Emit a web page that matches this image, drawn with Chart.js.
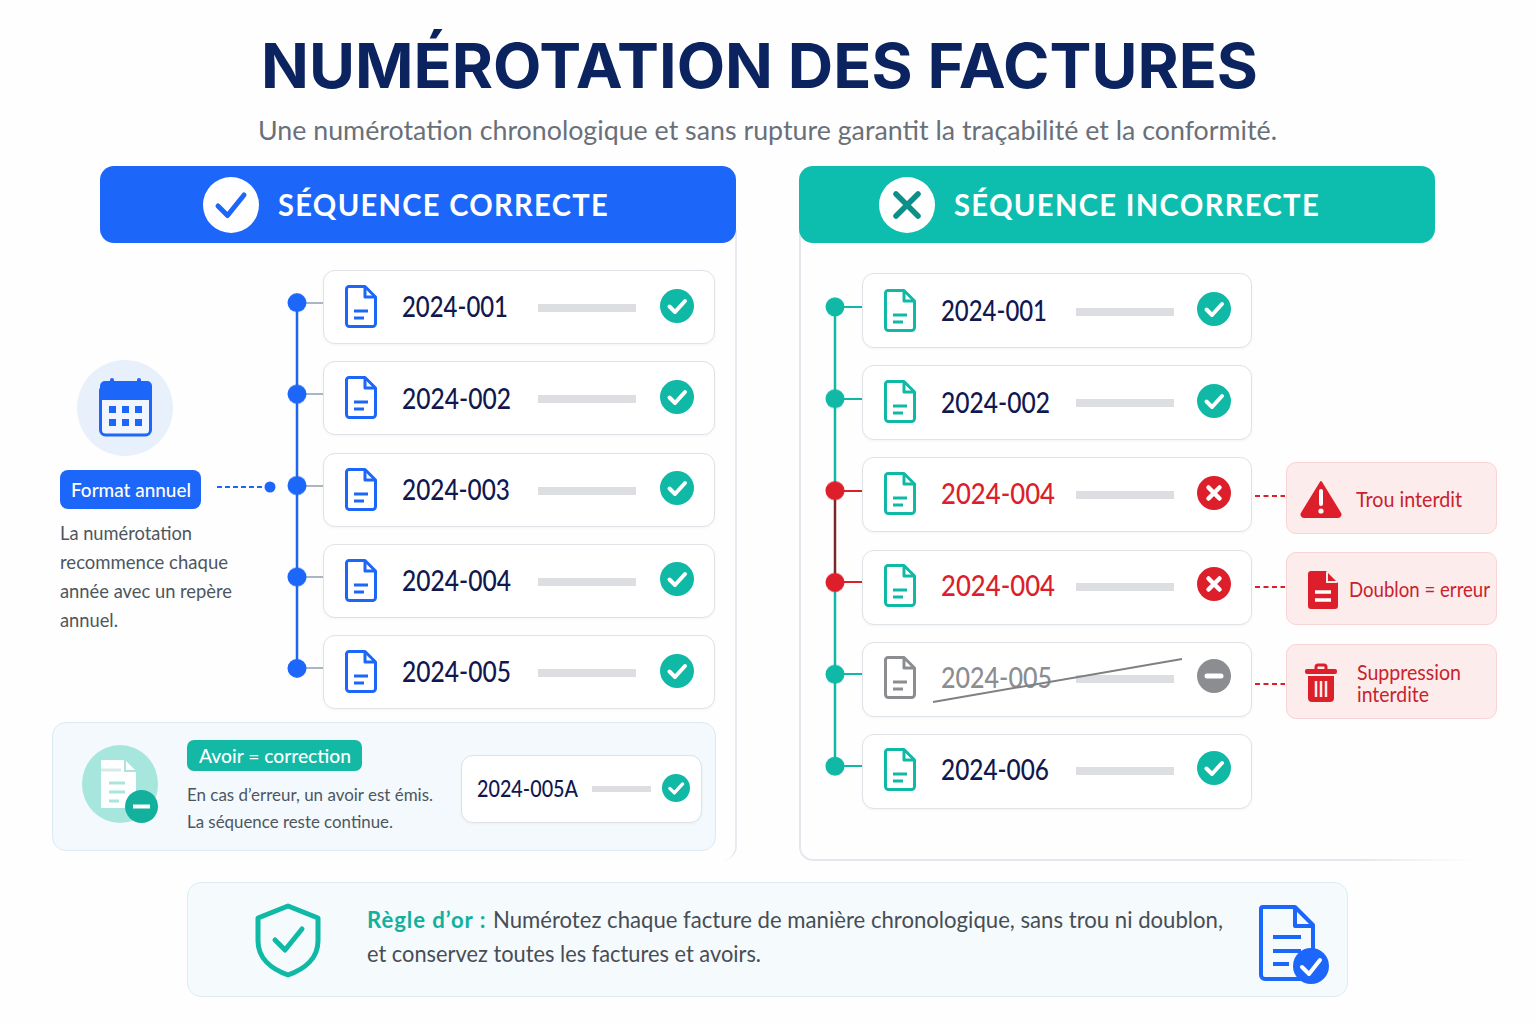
<!DOCTYPE html>
<html lang="fr">
<head>
<meta charset="utf-8">
<title>Numérotation des factures</title>
<script src="https://cdn.jsdelivr.net/npm/chart.js@4"></script>
<style>
  html, body { margin: 0; padding: 0; background: #fff; }
  #page { position: relative; width: 1536px; height: 1024px; overflow: hidden; background: #fefefe; font-family: Lato, sans-serif; }
  #page > *, .abs { position: absolute; }
  .txt { white-space: nowrap; line-height: 1; transform-origin: left center; }
  .card { background: #fff; border: 1.5px solid #dfe2e6; border-radius: 12px; box-sizing: border-box; box-shadow: 0 1px 3px rgba(30,50,80,.05); }
  .callout { background: #fdecec; border: 1.5px solid #fad3d6; border-radius: 10px; box-sizing: border-box; }
  svg { display: block; overflow: visible; }
</style>
</head>
<body>
<div id="page"></div>
<script>
// Séquences
const leftNumbers  = ['2024-001', '2024-002', '2024-003', '2024-004', '2024-005'];
const leftStatus   = ['ok', 'ok', 'ok', 'ok', 'ok'];
const rightNumbers = ['2024-001', '2024-002', '2024-004', '2024-004', '2024-005', '2024-006'];
const rightStatus  = ['ok', 'ok', 'err', 'err', 'void', 'ok'];
const rightNodes   = ['ok', 'ok', 'err', 'err', 'ok', 'ok'];
const lineOffset   = [0, 0, 0, 0, 0, 0];

const BLUE = '#1c66fa', TEAL = '#10b8a6', RED = '#dc1f2b', GREY = '#8b8d90', NAVY = '#11184f';
const page = document.getElementById('page');

function add(html) { page.insertAdjacentHTML('beforeend', html); }

// width: largeur visée, le texte est resserré pour y tenir
function text(x, cy, str, size, color, extra = '', width = 0) {
  add(`<div class="txt" style="left:${x}px;top:${cy - size / 2 - 0.7}px;font-size:${size}px;color:${color};${extra}">${str}</div>`);
  if (width) {
    const el = page.lastElementChild;
    el.style.transform = `scaleX(${width / el.getBoundingClientRect().width})`;
  }
}

function box(x, y, w, h, css, cls = '') {
  add(`<div class="${cls}" style="left:${x}px;top:${y}px;width:${w}px;height:${h}px;${css}"></div>`);
}

function svg(x, y, w, h, inner, vb) {
  add(`<svg style="left:${x}px;top:${y}px" width="${w}" height="${h}" viewBox="${vb || `0 0 ${w} ${h}`}" fill="none">${inner}</svg>`);
}

function docIcon(x, y, color) {
  svg(x, y, 32, 43, `<path d="M4 1.5H20L30.5 12V38.5a3 3 0 0 1-3 3H4.5a3 3 0 0 1-3-3V4a2.5 2.5 0 0 1 2.5-2.5Z" stroke="${color}" stroke-width="3" stroke-linejoin="round"/>
    <path d="M20 2V12H30" stroke="${color}" stroke-width="3" stroke-linejoin="round"/>
    <path d="M9 26H23M9 33H19" stroke="${color}" stroke-width="3"/>`);
}

function statusIcon(cx, cy, r, kind) {
  const c = kind === 'ok' ? TEAL : kind === 'err' ? RED : GREY;
  let mark = `<path d="M9.5 17.5L15 23L25 12" stroke="#fff" stroke-width="4" stroke-linecap="round" stroke-linejoin="round"/>`;
  if (kind === 'err') mark = `<path d="M11.5 11.5L22.5 22.5M22.5 11.5L11.5 22.5" stroke="#fff" stroke-width="4.5" stroke-linecap="round"/>`;
  if (kind === 'void') mark = `<path d="M10 17H24" stroke="#fff" stroke-width="5" stroke-linecap="round"/>`;
  svg(cx - r, cy - r, r * 2, r * 2, `<circle cx="17" cy="17" r="17" fill="${c}"/>${mark}`, '0 0 34 34');
}

// Titre
text(261, 67, 'NUMÉROTATION DES FACTURES', 62, '#0b2460', 'font-family:Inter;font-weight:700', 997);
text(258, 130, 'Une numérotation chronologique et sans rupture garantit la traçabilité et la conformité.', 27.5, '#6a7079', '', 1019);

// Panneaux
box(660, 230, 77, 630, 'border-right:2px solid #e8ebef;border-bottom-right-radius:14px;box-sizing:border-box');
box(799, 230, 690, 631, 'border-left:2px solid #e4e8ec;border-bottom:2px solid #e4e8ec;border-bottom-left-radius:14px;box-sizing:border-box');
box(1360, 855, 130, 8, 'background:linear-gradient(90deg,rgba(254,254,254,0),#fefefe 90%)');

// Bandeaux
box(100, 166, 636, 77, `background:${BLUE};border-radius:14px`);
box(799, 166, 636, 77, 'background:#0dbeae;border-radius:14px');
svg(203, 177, 56, 56, `<circle cx="28" cy="28" r="28" fill="#fff"/><path d="M15 29L24.5 38.5L41 18" stroke="${BLUE}" stroke-width="5" stroke-linecap="round" stroke-linejoin="round"/>`);
svg(879, 177, 56, 56, `<circle cx="28" cy="28" r="28" fill="#fff"/><path d="M17 17L39 39M39 17L17 39" stroke="#0c8f86" stroke-width="5.5" stroke-linecap="round"/>`);
text(278, 205, 'SÉQUENCE CORRECTE', 31, '#fff', 'font-weight:700;letter-spacing:1.4px', 331);
text(954, 205, 'SÉQUENCE INCORRECTE', 31, '#fff', 'font-weight:700;letter-spacing:1.4px', 366);

// Format annuel
svg(77, 360, 96, 96, `<circle cx="48" cy="48" r="48" fill="#e8f0fc"/>
  <rect x="23.5" y="26" width="50" height="49" rx="5" fill="#f1f6fe" stroke="${BLUE}" stroke-width="3"/>
  <path d="M23 40V26a5 5 0 0 1 5-5H70a5 5 0 0 1 5 5V40Z" fill="${BLUE}"/>
  <path d="M35 20V27M62 20V27" stroke="${BLUE}" stroke-width="4" stroke-linecap="round"/>
  <g fill="${BLUE}"><rect x="32" y="46" width="7" height="7"/><rect x="45" y="46" width="7" height="7"/><rect x="58" y="46" width="7" height="7"/><rect x="32" y="59" width="7" height="7"/><rect x="45" y="59" width="7" height="7"/><rect x="58" y="59" width="7" height="7"/></g>`);
box(60, 470, 141, 39, `background:${BLUE};border-radius:8px`);
text(71, 489.5, 'Format annuel', 20, '#fff', 'font-weight:500', 120);
svg(217, 481, 60, 12, `<path d="M0 6H46" stroke="${BLUE}" stroke-width="2" stroke-dasharray="5 3"/><circle cx="53" cy="6" r="5.5" fill="${BLUE}"/>`);
const noteLines = ['La numérotation', 'recommence chaque', 'année avec un repère', 'annuel.'];
const noteWidths = [132, 168, 172, 58];
noteLines.forEach((line, i) => {
  text(60, 533.5 + i * 29, line, 19, '#4d5660', '', noteWidths[i]);
});

// Lignes de factures
function row(top, x, w, h, cy, number, status, iconColor, numberColor, opt) {
  box(x, top, w, h, '', 'card');
  docIcon(x + 22, cy - 22, iconColor);
  text(x + 79, cy, number, 28, numberColor, 'font-weight:500', opt.numWidth);
  box(opt.barX, cy - 3, 98, 8, 'background:#dcdee1');
  statusIcon(opt.iconX, cy - 1.5, 17, status);
}

const leftSpacing = 91.25, leftTop = 270, leftFirst = 303;
const leftWidths = [106, 109, 108, 109, 109];
leftNumbers.forEach((n, i) => {
  const top = leftTop + i * leftSpacing;
  box(304, leftFirst + i * leftSpacing - 1, 20, 2, 'background:#a9b6c4');
  row(top, 323, 392, 74, top + 37, n, leftStatus[i], BLUE, NAVY, { numWidth: leftWidths[i], barX: 538, iconX: 677 });
});

const rightSpacing = 92.2, rightTop = 273, rightFirst = 307, rightNodeGap = 91.8;
const rightWidths = [106, 109, 114, 114, 111, 108];
rightNumbers.forEach((n, i) => {
  const top = rightTop + i * rightSpacing;
  const st = rightStatus[i];
  const nodeColor = rightNodes[i] === 'err' ? RED : TEAL;
  box(842, rightFirst + i * rightNodeGap - 1, 21, 2, `background:${nodeColor}`);
  row(top, 862, 390, 75, 310.5 + i * rightNodeGap, n, st,
      st === 'void' ? GREY : TEAL,
      st === 'err' ? RED : st === 'void' ? GREY : NAVY,
      { numWidth: rightWidths[i], barX: 1076, iconX: 1214 });
});
// Facture barrée
svg(930, 655, 255, 50, `<path d="M3 47L252 4" stroke="#7e8184" stroke-width="2"/>`);

// Erreurs
[[462, 72, 495], [552, 73, 586], [644, 75, 683]].forEach(([top, h, dash]) => {
  box(1286, top, 211, h, '', 'callout');
  svg(1255, dash, 30, 2, `<path d="M0 1H30" stroke="${RED}" stroke-width="2" stroke-dasharray="5 3.5"/>`);
});
svg(1300, 480, 42, 38, `<path d="M21 2L40 33a2.5 2.5 0 0 1-2 4H4a2.5 2.5 0 0 1-2-4Z" fill="${RED}" stroke="${RED}" stroke-width="2" stroke-linejoin="round"/><path d="M21 11V24" stroke="#fff" stroke-width="4" stroke-linecap="round"/><circle cx="21" cy="31" r="2.6" fill="#fff"/>`);
text(1356, 500, 'Trou interdit', 20.5, '#c9222e', '', 106);
svg(1308, 571, 30, 38, `<path d="M3 0H18L30 12V35a3 3 0 0 1-3 3H3a3 3 0 0 1-3-3V3a3 3 0 0 1 3-3Z" fill="${RED}"/><path d="M19 1V11H29" stroke="#fdecec" stroke-width="2"/><path d="M7 21H23M7 29H23" stroke="#fff" stroke-width="3.5"/>`);
text(1349, 590, 'Doublon = erreur', 20.5, '#c9222e', '', 141);
svg(1305, 663, 32, 39, `<path d="M11 7V4a2 2 0 0 1 2-2H19a2 2 0 0 1 2 2V7" stroke="${RED}" stroke-width="3"/><rect x="0" y="6" width="32" height="5" rx="2" fill="${RED}"/><path d="M3 13H29V35a4 4 0 0 1-4 4H7a4 4 0 0 1-4-4Z" fill="${RED}"/><path d="M11 18V34M16 18V34M21 18V34" stroke="#fdecec" stroke-width="2.5"/>`);
text(1357, 673, 'Suppression', 20.5, '#c9222e', '', 104);
text(1357, 695, 'interdite', 20.5, '#c9222e', '', 72);

// Avoir
box(52, 722, 664, 129, 'background:#f3f9fd;border:1.5px solid #dceaf2;border-radius:14px;box-sizing:border-box');
svg(82, 745, 76, 78, `<ellipse cx="38" cy="39" rx="38" ry="39" fill="#a7e6dc"/><path d="M19 15H43L54 26V63H19Z" fill="#fff"/><path d="M43 15V26H54" stroke="#a7e6dc" stroke-width="2"/><path d="M19 25H39" stroke="#d5ebe8" stroke-width="3"/><path d="M27 38H43M27 47H43M27 56H37" stroke="#a7e6dc" stroke-width="3"/>`);
svg(125, 790, 33, 33, `<circle cx="16.5" cy="16.5" r="16.5" fill="#12b09d"/><path d="M8 16.5H25" stroke="#fff" stroke-width="4"/>`);
box(187, 740, 175, 31, 'background:#13b9a5;border-radius:7px');
text(199, 756, 'Avoir = correction', 19, '#fff', 'font-weight:500', 152);
text(187, 795, 'En cas d’erreur, un avoir est émis.', 18, '#4d5660', '', 246);
text(187, 822, 'La séquence reste continue.', 18, '#4d5660', '', 206);
box(461, 755, 241, 68, '', 'card');
text(477, 789, '2024-005A', 23, NAVY, 'font-weight:500', 101);
box(592, 786, 59, 6, 'background:#dcdee1');
statusIcon(676, 788, 14, 'ok');

// Règle d'or
box(187, 882, 1161, 115, 'background:#f5fafd;border:1.5px solid #deebf3;border-radius:14px;box-sizing:border-box');
svg(255, 903, 66, 75, `<path d="M33 3L63 15V38C63 55 50 66 33 72C16 66 3 55 3 38V15Z" stroke="${TEAL}" stroke-width="5" stroke-linejoin="round"/><path d="M20 37L30 47L47 26" stroke="${TEAL}" stroke-width="5" stroke-linecap="round" stroke-linejoin="round"/>`);
text(367, 920, '<span style="color:#12b09d;font-weight:700;letter-spacing:1px;margin-right:1px">Règle d’or :</span> Numérotez chaque facture de manière chronologique, sans trou ni doublon,', 23.5, '#474d55', '', 856);
text(367, 954, 'et conservez toutes les factures et avoirs.', 23.5, '#474d55', '', 394);
svg(1259, 905, 72, 76, `<path d="M4 2H36L54 20V74H6a4 4 0 0 1-4-4V4a2 2 0 0 1 2-2Z" stroke="${BLUE}" stroke-width="4" stroke-linejoin="round"/><path d="M36 3V21H54" stroke="${BLUE}" stroke-width="4" stroke-linejoin="round"/><path d="M14 32H42M14 46H42M14 59H30" stroke="${BLUE}" stroke-width="4"/><circle cx="52" cy="61" r="18" fill="${BLUE}"/><path d="M43 62L50 69L61 55" stroke="#fff" stroke-width="4" stroke-linecap="round" stroke-linejoin="round"/>`);

// Frises : une charte par séquence
function timeline(id, labels, nodes, x, firstNode, spacing, lineColor, nodeColor) {
  const w = 40;
  const h = labels.length * spacing;
  add(`<canvas id="${id}" style="left:${x - w / 2}px;top:${firstNode - spacing / 2}px;width:${w}px;height:${h}px"></canvas>`);
  const colors = nodes.map(s => s === 'err' ? RED : nodeColor);
  new Chart(document.getElementById(id), {
    type: 'line',
    data: {
      labels,
      datasets: [{
        data: lineOffset.slice(0, labels.length),
        borderColor: lineColor,
        borderWidth: 2.5,
        pointRadius: 9.5,
        pointBorderWidth: 0,
        pointBackgroundColor: colors,
        tension: 0,
        segment: {
          borderColor: c => nodes[c.p0DataIndex] === 'err' && nodes[c.p1DataIndex] === 'err' ? '#7d2626' : lineColor
        }
      }]
    },
    options: {
      indexAxis: 'y',
      responsive: false,
      animation: false,
      layout: { padding: 0, autoPadding: false },
      plugins: { legend: { display: false }, tooltip: { enabled: false } },
      scales: {
        x: { type: 'linear', min: -1, max: 1, display: false },
        y: { type: 'category', offset: true, display: false }
      }
    }
  });
}

timeline('leftLine', leftNumbers, leftStatus, 297, leftFirst, leftSpacing, '#1a66f0', BLUE);
timeline('rightLine', rightNumbers, rightNodes, 835, rightFirst, rightNodeGap, TEAL, TEAL);
</script>
</body>
</html>
